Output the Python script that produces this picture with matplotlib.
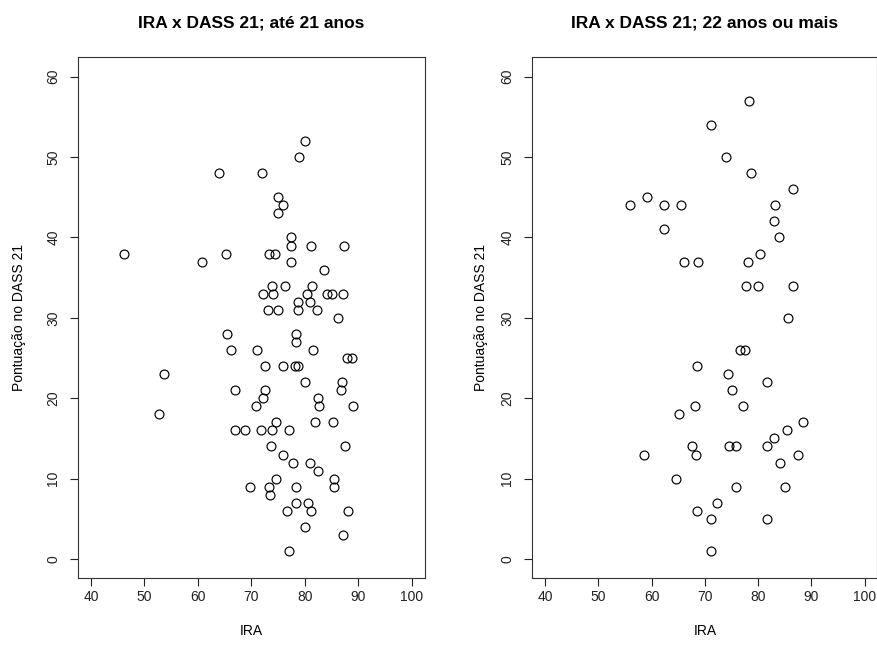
#IRA x DASS 21 scatter plots, split by age group
import matplotlib
matplotlib.use('Agg')
import matplotlib.pyplot as plt

plt.rcParams['font.family'] = ['Liberation Sans', 'DejaVu Sans']

#group: up to 21 years
ira_young = [80, 79, 64, 72, 75, 76, 75, 77.4, 77.4, 81.1, 87.4, 46.2, 60.8, 65.2, 73.3, 74.4,
             77.4, 83.5, 73.8, 76.3, 81.4, 72.2, 74.1, 80.5, 84.1, 85.1, 87.1, 78.8, 80.9,
             73.1, 75, 78.8, 82.3, 86.2, 65.5, 78.3, 78.3, 66.2, 71, 81.6, 87.9, 88.9,
             72.6, 75.9, 78.1, 78.7, 53.6, 80.1, 87, 86.8, 67, 72.6, 72.1, 82.4, 70.8, 82.7,
             89.1, 52.8, 74.7, 81.9, 85.2, 67, 68.8, 71.8, 73.8, 77.1, 73.7, 87.5, 75.9,
             77.8, 80.9, 82.5, 74.7, 85.4, 69.7, 73.3, 78.4, 85.4, 73.5, 78.3, 80.6, 76.6,
             81.2, 88.1, 80.1, 87.1, 77.1]
dass_young = [52, 50, 48, 48, 45, 44, 43, 40, 39, 39, 39, 38, 37, 38, 38, 38,
              37, 36, 34, 34, 34, 33, 33, 33, 33, 33, 33, 32, 32,
              31, 31, 31, 31, 30, 28, 28, 27, 26, 26, 26, 25, 25,
              24, 24, 24, 24, 23, 22, 22, 21, 21, 21, 20, 20, 19, 19,
              19, 18, 17, 17, 17, 16, 16, 16, 16, 16, 14, 14, 13,
              12, 12, 11, 10, 10, 9, 9, 9, 9, 8, 7, 7, 6,
              6, 6, 4, 3, 1]

#group: 22 years or more
ira_old = [78.2, 71.1, 74, 78.6, 86.6, 59.1, 55.9, 62.4, 65.5, 83.2, 82.9, 62.4, 83.9, 80.3,
           66, 68.8, 78.1, 77.8, 80, 86.6, 85.6, 76.6, 77.6, 68.5, 74.4, 81.7, 75.1, 68.1,
           77.1, 65.2, 88.4, 85.4, 83, 67.5, 74.5, 75.9, 81.6, 58.5, 68.3, 87.4, 84.1,
           64.6, 75.9, 85, 72.2, 68.5, 71.2, 81.6, 71.2]
dass_old = [57, 54, 50, 48, 46, 45, 44, 44, 44, 44, 42, 41, 40, 38,
            37, 37, 37, 34, 34, 34, 30, 26, 26, 24, 23, 22, 21, 19,
            19, 18, 17, 16, 15, 14, 14, 14, 14, 13, 13, 13, 12,
            10, 9, 9, 7, 6, 5, 5, 1]

titles = ['IRA x DASS 21; até 21 anos', 'IRA x DASS 21; 22 anos ou mais']
xlabel = 'IRA'
ylabel = 'Pontuação no DASS 21'
xticks = [40, 50, 60, 70, 80, 90, 100]
yticks = [0, 10, 20, 30, 40, 50, 60]


def draw_panel(ax, x, y, title, ylab_x):
    ax.plot(x, y, linestyle='none', marker='o', markersize=6.4,
            markerfacecolor='none', markeredgecolor='black', markeredgewidth=0.85)
    ax.set_xlim(37.6, 102.4)
    ax.set_ylim(-2.4, 62.4)
    ax.set_xticks(xticks)
    ax.set_yticks(yticks)
    ax.tick_params(direction='out', length=5.5, width=0.8, labelsize=10, colors='#222222')
    ax.tick_params(axis='x', pad=3.0)
    ax.tick_params(axis='y', pad=7.5)
    for lab in ax.get_yticklabels():
        lab.set_rotation(90)
        lab.set_va('center')
    for s in ax.spines.values():
        s.set_linewidth(0.8)
        s.set_color('#333333')
    ax.set_title(title, fontsize=12.5, fontweight='bold', y=1.067, va='center', pad=0)
    ax.set_xlabel(xlabel, fontsize=10)
    ax.xaxis.set_label_coords(0.5, -0.101)
    ax.xaxis.label.set_va('center')
    ax.set_ylabel(ylabel, fontsize=10)
    ax.yaxis.set_label_coords(ylab_x, 0.5)
    ax.yaxis.label.set_va('center')


fig = plt.figure(figsize=(8.78, 6.46), dpi=100)
ax1 = fig.add_axes([0.0891, 0.1048, 0.3944, 0.8063])
ax2 = fig.add_axes([0.6062, 0.1048, 0.3932, 0.8063])

draw_panel(ax1, ira_young, dass_young, titles[0], -0.172)
draw_panel(ax2, ira_old, dass_old, titles[1], -0.149)

fig.savefig('out.png', dpi=100)
